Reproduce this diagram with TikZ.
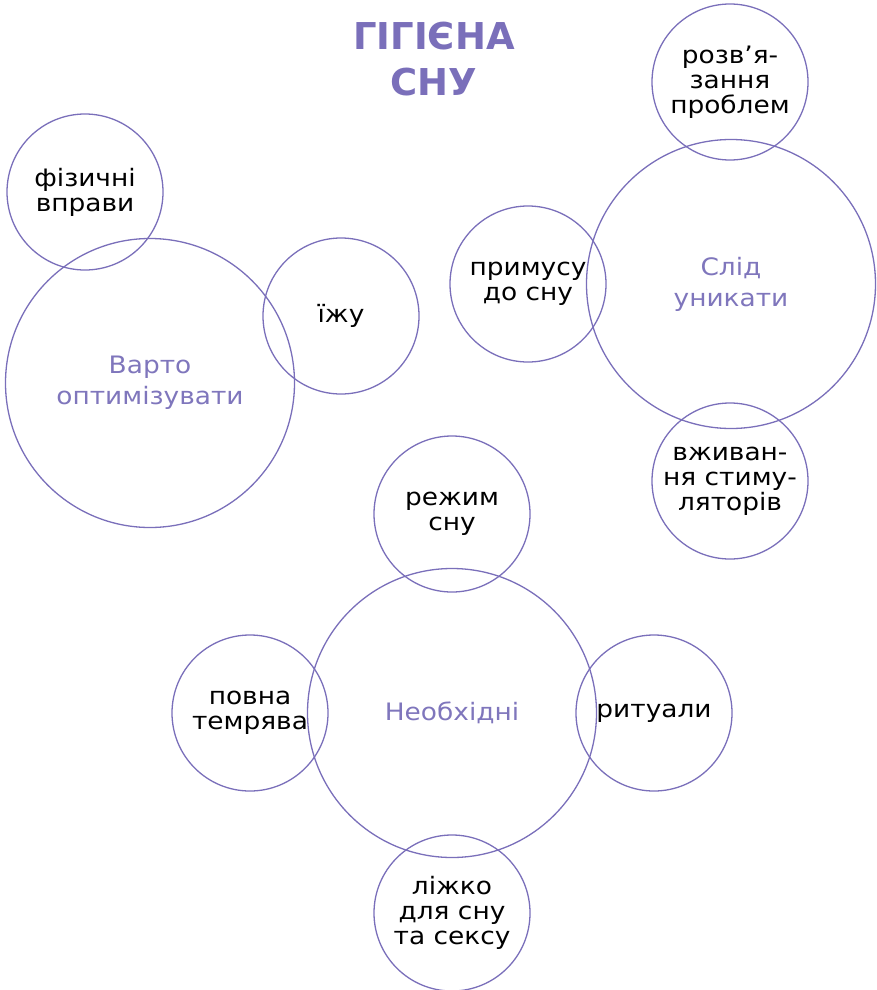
\documentclass[tikz,border=0pt]{standalone}
\usepackage{fontspec}
\setmainfont{DejaVu Sans}[FakeStretch=1.1]
\newfontfamily\titlefont{DejaVu Sans}
\definecolor{lila}{HTML}{7A6FBA}
\definecolor{lilatext}{HTML}{7F76BC}
\begin{document}
\begin{tikzpicture}[x=1pt,y=-1pt,
  ring/.style={circle,draw=lila,line width=1.3pt,inner sep=0pt,align=center,text=black,
    font=\fontsize{24}{25}\selectfont},
  smallring/.style={ring,minimum size=156pt},
  bigring/.style={ring,minimum size=289pt,text=lilatext,font=\fontsize{24}{31}\selectfont}]
\useasboundingbox (0,0) rectangle (877,990);
\node[font=\titlefont\bfseries\fontsize{37}{46}\selectfont,text=lila,align=center] (title) at (434,59) {ГІГІЄНА\\СНУ};
% left group
\node[bigring] (opt) at (150,383) {Варто\\оптимізувати};
\node[smallring] (fiz) at (85,192) {фізичні\\вправи};
\node[smallring] (food) at (341,316) {їжу};
% right group
\node[bigring] (avoid) at (731,284) {Слід\\уникати};
\node[smallring] (probl) at (730,82) {розв’я-\\зання\\проблем};
\node[smallring] (force) at (528,284) {примусу\\до сну};
\node[smallring] (stim) at (730,481) {вживан-\\ня стиму-\\ляторів};
% bottom group
\node[bigring] (need) at (452,713) {Необхідні};
\node[smallring] (regime) at (452,514) {режим\\сну};
\node[smallring] (dark) at (250,713) {повна\\темрява};
\node[smallring] (ritual) at (654,713) {ритуали};
\node[smallring] (bed) at (452,913) {ліжко\\для сну\\та сексу};
\end{tikzpicture}
\end{document}
